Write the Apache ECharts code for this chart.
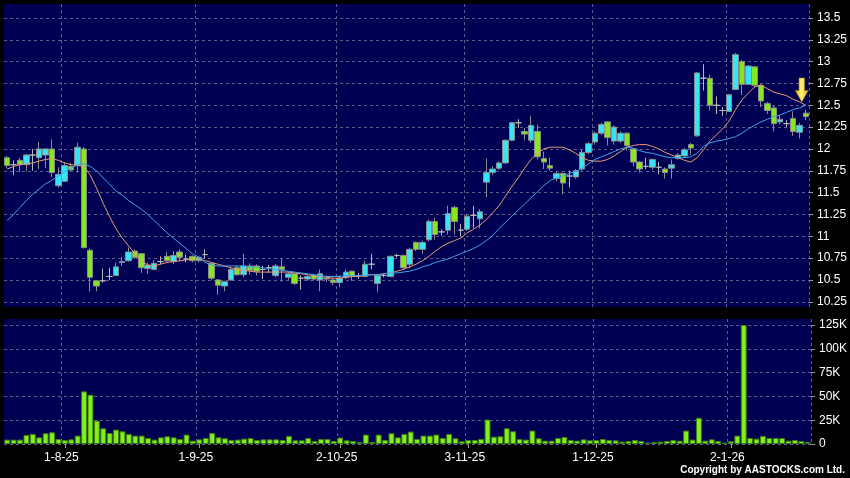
<!DOCTYPE html>
<html><head><meta charset="utf-8">
<script src="https://cdn.jsdelivr.net/npm/echarts@6/dist/echarts.min.js"></script>
<style>html,body{margin:0;padding:0;background:#000;}#c{width:850px;height:478px;}</style>
</head><body><div id="c"></div>
<script>
const dates = [
'21-7-25','22-7-25','23-7-25','24-7-25','25-7-25','28-7-25','29-7-25','30-7-25','31-7-25',
'1-8-25','4-8-25','5-8-25','6-8-25','7-8-25','8-8-25','11-8-25','12-8-25','13-8-25','14-8-25','15-8-25','18-8-25','19-8-25','20-8-25','21-8-25','22-8-25','25-8-25','26-8-25','27-8-25','28-8-25','29-8-25',
'1-9-25','2-9-25','3-9-25','4-9-25','5-9-25','8-9-25','9-9-25','10-9-25','11-9-25','12-9-25','15-9-25','16-9-25','17-9-25','18-9-25','19-9-25','22-9-25','23-9-25','24-9-25','25-9-25','26-9-25','29-9-25','30-9-25',
'2-10-25','3-10-25','6-10-25','8-10-25','9-10-25','10-10-25','13-10-25','14-10-25','15-10-25','16-10-25','17-10-25','20-10-25','21-10-25','22-10-25','23-10-25','24-10-25','27-10-25','28-10-25','30-10-25','31-10-25',
'3-11-25','4-11-25','5-11-25','6-11-25','7-11-25','10-11-25','11-11-25','12-11-25','13-11-25','14-11-25','17-11-25','18-11-25','19-11-25','20-11-25','21-11-25','24-11-25','25-11-25','26-11-25','27-11-25','28-11-25',
'1-12-25','2-12-25','3-12-25','4-12-25','5-12-25','8-12-25','9-12-25','10-12-25','11-12-25','12-12-25','15-12-25','16-12-25','17-12-25','18-12-25','19-12-25','22-12-25','23-12-25','24-12-25','29-12-25','30-12-25','31-12-25',
'2-1-26','5-1-26','6-1-26','7-1-26','8-1-26','9-1-26','12-1-26','13-1-26','14-1-26','15-1-26','16-1-26','19-1-26','20-1-26'
];
const opens = [
11.90,11.82,11.87,11.82,11.93,11.90,11.93,12.00,11.58,11.63,11.80,11.81,12.00,10.84,10.49,10.49,10.54,10.55,10.70,10.72,
10.83,10.80,10.63,10.62,10.71,10.77,10.71,10.82,10.74,10.77,10.72,10.79,10.69,10.50,10.43,10.50,10.64,10.56,10.66,10.66,
10.62,10.64,10.55,10.65,10.53,10.57,10.52,10.51,10.55,10.50,10.52,10.50,10.47,10.53,10.60,10.55,10.54,10.68,10.46,10.55,
10.54,10.78,10.78,10.68,10.93,10.85,10.96,11.17,11.05,11.07,11.33,11.07,11.08,11.24,11.20,11.62,11.73,11.78,11.84,12.10,
12.30,12.20,12.10,12.20,11.89,11.81,11.66,11.72,11.69,11.68,11.77,11.96,12.08,12.18,12.31,12.09,12.09,12.18,12.00,11.85,
11.80,11.79,11.79,11.77,11.78,11.89,11.92,12.05,12.15,12.81,12.81,12.50,12.44,12.43,12.68,13.00,12.74,12.94,12.73,12.52,
12.47,12.31,12.29,12.35,12.19,12.41];
const closes = [
11.81,11.82,11.82,11.93,11.93,12.00,12.00,11.73,11.71,11.81,11.76,12.02,10.87,10.53,10.43,10.49,10.54,10.65,10.71,10.82,
10.76,10.64,10.67,10.69,10.71,10.72,10.78,10.76,10.74,10.72,10.76,10.79,10.52,10.44,10.48,10.62,10.56,10.66,10.61,10.60,
10.62,10.64,10.66,10.62,10.57,10.46,10.52,10.54,10.51,10.57,10.51,10.47,10.52,10.59,10.54,10.55,10.68,10.68,10.55,10.55,
10.77,10.78,10.64,10.85,10.85,10.93,11.17,11.02,11.05,11.26,11.17,11.07,11.23,11.24,11.28,11.73,11.77,11.84,12.10,12.30,
12.30,12.17,12.27,11.91,11.85,11.78,11.72,11.61,11.69,11.75,11.96,12.06,12.18,12.28,12.13,12.25,12.18,12.04,11.85,11.77,
11.80,11.88,11.79,11.73,11.82,11.93,11.99,12.01,12.87,12.81,12.50,12.50,12.44,12.62,13.08,12.74,12.95,12.73,12.55,12.44,
12.29,12.34,12.29,12.20,12.27,12.37];
const lows = [
11.78,11.70,11.74,11.74,11.75,11.77,11.78,11.68,11.56,11.62,11.74,11.73,10.86,10.37,10.37,10.47,10.50,10.55,10.66,10.71,
10.74,10.58,10.57,10.61,10.68,10.70,10.68,10.71,10.70,10.70,10.70,10.74,10.50,10.33,10.37,10.49,10.55,10.53,10.56,10.55,
10.51,10.58,10.53,10.48,10.50,10.44,10.39,10.49,10.49,10.37,10.48,10.44,10.42,10.51,10.49,10.51,10.53,10.62,10.36,10.53,
10.53,10.76,10.62,10.63,10.83,10.80,10.94,10.96,11.01,11.02,11.02,11.00,11.06,11.09,11.09,11.45,11.70,11.76,11.83,12.09,
12.24,12.10,12.07,11.88,11.77,11.75,11.63,11.48,11.56,11.66,11.75,11.94,12.05,12.16,12.04,12.05,12.07,11.98,11.80,11.73,
11.77,11.76,11.71,11.66,11.66,11.88,11.90,11.93,12.14,12.67,12.44,12.40,12.38,12.43,12.68,12.62,12.73,12.70,12.48,12.40,
12.20,12.28,12.25,12.15,12.12,12.33];
const highs = [
11.92,11.87,11.90,11.94,12.00,12.08,12.01,12.11,11.79,11.85,11.84,12.07,12.02,10.86,10.50,10.63,10.64,10.70,10.76,10.87,
10.85,10.81,10.70,10.73,10.77,10.82,10.83,10.85,10.79,10.78,10.77,10.85,10.70,10.51,10.49,10.65,10.66,10.80,10.69,10.68,
10.66,10.67,10.68,10.74,10.59,10.58,10.55,10.56,10.57,10.62,10.55,10.53,10.55,10.62,10.61,10.58,10.72,10.80,10.56,10.57,
10.78,10.80,10.79,10.87,10.94,10.95,11.19,11.21,11.08,11.35,11.35,11.14,11.25,11.35,11.31,11.89,11.80,11.86,12.11,12.31,
12.34,12.24,12.38,12.28,11.97,11.90,11.74,11.73,11.75,11.77,11.99,12.08,12.20,12.30,12.32,12.27,12.20,12.19,12.01,11.86,
11.90,11.89,11.85,11.79,11.88,11.95,12.01,12.07,12.88,12.97,12.85,12.60,12.48,12.63,13.10,13.02,12.96,12.95,12.74,12.54,
12.50,12.39,12.33,12.43,12.30,12.45];
const volumes = [
4600,4600,4600,9500,10600,7000,11300,12300,5300,4200,4900,8800,55300,51800,24600,16500,11600,15100,13400,10600,
8800,8800,6300,4600,7000,8100,7000,5300,9900,3500,4900,6300,11600,7000,6000,4200,4600,5600,6300,4200,
4900,4900,4900,4200,8500,3900,3900,6300,3200,5300,5300,3200,6700,3900,3200,2100,9900,2100,9900,4200,
11300,7000,10600,13000,5300,8800,8800,9900,6300,10600,6000,2800,4200,4200,5300,25700,7700,8100,16500,13400,
5300,4600,14100,6000,3500,3500,6300,7400,4200,3500,4900,3900,4200,5300,4200,3900,2500,3200,4200,3200,
1400,2100,2500,3200,4200,3500,14100,4600,27500,3500,4900,3200,1400,2800,8800,125000,6300,5600,8500,6300,
6300,6300,3500,4200,3200,2000];
const maShort = [
11.77,11.80,11.82,11.83,11.84,11.86,11.88,11.89,11.87,11.84,11.82,11.81,
11.80,11.70,11.55,11.38,11.23,11.09,10.98,10.89,10.80,10.72,10.67,10.66,10.68,10.70,
10.71,10.72,10.73,10.74,10.74,10.72,10.70,10.68,10.66,10.64,10.62,10.61,10.60,10.59,
10.59,10.59,10.59,10.59,10.59,10.58,10.57,10.56,10.55,10.54,10.53,10.52,10.52,10.53,
10.54,10.54,10.55,10.56,10.56,10.57,10.58,10.60,10.62,10.65,10.68,10.72,10.77,10.83,
10.88,10.92,10.95,10.98,11.04,11.08,11.13,11.19,11.27,11.35,11.46,11.57,11.67,11.78,
11.88,11.95,12.00,12.02,12.02,12.02,11.99,11.95,11.90,11.87,11.86,11.86,11.88,11.92,
11.97,12.02,12.04,12.05,12.05,12.03,12.00,11.96,11.93,11.90,11.87,11.85,11.90,11.99,
12.09,12.16,12.23,12.32,12.45,12.56,12.64,12.71,12.73,12.69,12.65,12.63,12.61,12.57,12.54,12.50];
const maLong = [
11.18,11.25,11.33,11.41,11.48,11.54,11.60,11.64,11.69,11.74,11.78,11.82,
11.83,11.80,11.75,11.67,11.60,11.52,11.47,11.41,11.36,11.31,11.25,11.18,11.11,11.04,
10.98,10.92,10.86,10.80,10.76,10.70,10.67,10.66,10.66,10.66,10.66,10.66,10.65,10.65,
10.64,10.63,10.62,10.61,10.60,10.59,10.58,10.57,10.56,10.55,10.54,10.54,10.54,10.55,
10.55,10.55,10.55,10.56,10.56,10.57,10.58,10.58,10.59,10.60,10.62,10.65,10.67,10.70,
10.72,10.74,10.77,10.80,10.83,10.86,10.90,10.95,11.01,11.09,11.16,11.23,11.30,11.37,
11.44,11.51,11.58,11.64,11.67,11.69,11.72,11.74,11.78,11.83,11.88,11.91,11.94,11.97,
12.00,12.02,12.01,11.98,11.96,11.95,11.93,11.91,11.90,11.90,11.90,11.91,11.95,12.03,
12.07,12.09,12.10,12.12,12.14,12.18,12.23,12.27,12.31,12.34,12.37,12.39,12.42,12.45,12.47,12.50];
const dateTicks = ['1-8-25','1-9-25','2-10-25','3-11-25','1-12-25','2-1-26'];
const priceTicks = [10.25,10.5,10.75,11,11.25,11.5,11.75,12,12.25,12.5,12.75,13,13.25,13.5];
const volTicks = [0,25000,50000,75000,100000,125000];
const arrowAt = {date:'20-1-26', price:12.676};

const navy = '#000052';
const dash = {color:'#5c5c8e', type:[3,3], width:1};
const isTick = (i, v) => dateTicks.indexOf(v) >= 0;
const font = 'Liberation Sans';

const chart = echarts.init(document.getElementById('c'), null, {renderer:'canvas'});
chart.setOption({
  backgroundColor:'#000',
  animation:false,
  grid:[
    {left:4, top:4, width:807, height:303, show:true, backgroundColor:navy, borderWidth:0},
    {left:4, top:319, width:807, height:125, show:true, backgroundColor:navy, borderWidth:0}
  ],
  xAxis:[
    {type:'category', gridIndex:0, data:dates, boundaryGap:true,
     axisLine:{show:false}, axisTick:{show:false}, axisLabel:{show:false},
     splitLine:{show:true, interval:isTick, lineStyle:dash}},
    {type:'category', gridIndex:1, data:dates, boundaryGap:true,
     axisLine:{show:false},
     axisTick:{show:true, alignWithLabel:true, interval:isTick, length:4, lineStyle:{color:'#9a9a9a'}},
     axisLabel:{interval:isTick, color:'#ffffff', fontSize:12, fontFamily:font, margin:8, padding:[0,7,0,0]},
     splitLine:{show:true, interval:isTick, lineStyle:dash}}
  ],
  yAxis:[
    {type:'value', gridIndex:0, position:'right', min:10.19, max:13.66,
     axisLine:{show:false},
     axisTick:{show:true, length:4, customValues:priceTicks, lineStyle:{color:'#9a9a9a'}},
     axisLabel:{customValues:priceTicks, color:'#ffffff', fontSize:12, fontFamily:font, margin:8},
     splitLine:{show:true, lineStyle:dash}},
    {type:'value', gridIndex:1, position:'right', min:0, max:131300,
     axisLine:{show:false},
     axisTick:{show:true, length:4, customValues:volTicks, lineStyle:{color:'#9a9a9a'}},
     axisLabel:{customValues:volTicks, color:'#ffffff', fontSize:12, fontFamily:font, margin:8,
       formatter:v => v === 0 ? '0' : (v/1000) + 'K'},
     splitLine:{show:true, lineStyle:dash}}
  ],
  series:[
    {type:'candlestick', xAxisIndex:0, yAxisIndex:0, barWidth:6,
     data: dates.map((d,i)=>[opens[i], closes[i], lows[i], highs[i]]),
     itemStyle:{color:'#36e4f4', color0:'#84e81e', borderColor:'#8c8c8c', borderColor0:'#8c8c8c', borderColorDoji:'#b8b8b8', borderWidth:1},
     markPoint:{data:[{
       coord:[arrowAt.date, arrowAt.price],
       symbol:'path://M4,0 L10,0 L10,12 L14,12 L7,23 L0,12 L4,12 Z',
       symbolSize:[13,24], symbolOffset:[-4,0],
       itemStyle:{color:{type:'linear',x:0,y:0,x2:1,y2:0,colorStops:[{offset:0,color:'#e8b818'},{offset:0.5,color:'#fff27a'},{offset:1,color:'#d9a010'}]}, borderColor:'#a07a00', borderWidth:0.5},
       label:{show:false}}]}
    },
    {type:'line', xAxisIndex:0, yAxisIndex:0, data:maShort, symbol:'none', lineStyle:{color:'#e89a74', width:1}},
    {type:'line', xAxisIndex:0, yAxisIndex:0, data:maLong, symbol:'none', lineStyle:{color:'#3aa6e6', width:1}},
    {type:'bar', xAxisIndex:1, yAxisIndex:1, data:volumes, barCategoryGap:'8%',
     itemStyle:{color:'#82f01e', borderColor:'#3f7c12', borderWidth:1}}
  ],
  graphic:[
    {type:'text', right:5, top:465, style:{text:'Copyright by AASTOCKS.com Ltd.', fill:'#ffffff', font:'bold 10px "Liberation Sans", Arial'}}
  ]
});
</script>
</body></html>
